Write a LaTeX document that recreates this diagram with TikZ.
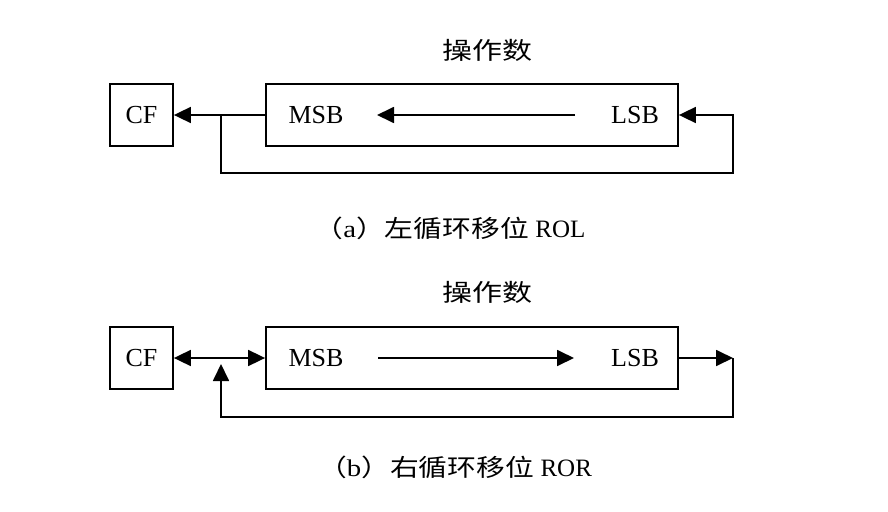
\documentclass[tikz,border=0pt]{standalone}
\usepackage{fontspec}
\setmainfont{Liberation Serif}
\newfontfamily\cjk{Noto Sans CJK SC}
\usetikzlibrary{arrows.meta}
\begin{document}
\begin{tikzpicture}[x=1pt,y=-1pt,
  line width=1.8pt,
  boxlbl/.style={font=\fontsize{26}{30}\selectfont},
  regbox/.style={draw,minimum width=412pt,minimum height=62pt,inner sep=0pt},
  cfbox/.style={draw,minimum width=63pt,minimum height=62pt,inner sep=0pt},
  arr/.style={-{Triangle[length=17pt,width=16pt]}},
  darr/.style={{Triangle[length=17pt,width=16pt]}-{Triangle[length=17pt,width=16pt]}},
  captxt/.style={inner sep=0pt}]
\useasboundingbox (0,0) rectangle (888,511);

% ---------- (a) ROL ----------
\node[captxt] (tA) at (487,50) {\scalebox{1.25}[1]{\cjk\fontsize{24}{28}\selectfont 操作数}};
\node[cfbox,boxlbl] (cfA) at (141.5,115) {CF};
\node[regbox] (regA) at (472,115) {};
\node[boxlbl] (msbA) at (316,115) {MSB};
\node[boxlbl] (lsbA) at (635,115) {LSB};
\coordinate (aS) at (575,115);
\coordinate (aE) at (377,115);
\coordinate (jA) at (221,115);
\coordinate (blA) at (221,173);
\coordinate (brA) at (733,173);
\coordinate (trA) at (733,115);
\draw[arr] (regA.west) -- (cfA.east);
\draw[arr] (aS) -- (aE);
\draw[arr] (jA) -- (blA) -- (brA) -- (trA) -- (regA.east);
\node[captxt] (capA) at (450,228) {\scalebox{1.2}[1]{\cjk\fontsize{24}{28}\selectfont （{\rmfamily a}）左循环移位 }\fontsize{25}{28}\selectfont ROL};

% ---------- (b) ROR ----------
\node[captxt] (tB) at (487,292) {\scalebox{1.25}[1]{\cjk\fontsize{24}{28}\selectfont 操作数}};
\node[cfbox,boxlbl] (cfB) at (141.5,358) {CF};
\node[regbox] (regB) at (472,358) {};
\node[boxlbl] (msbB) at (316,358) {MSB};
\node[boxlbl] (lsbB) at (635,358) {LSB};
\coordinate (bS) at (378,358);
\coordinate (bE) at (574,358);
\coordinate (jB) at (221,364);
\coordinate (blB) at (221,417);
\coordinate (brB) at (733,417);
\coordinate (trB) at (733,358);
\draw[darr] (cfB.east) -- (regB.west);
\draw[arr] (bS) -- (bE);
\draw[arr] (regB.east) -- (trB);
\draw[arr] (trB) -- (brB) -- (blB) -- (jB);
\node[captxt] (capB) at (455,467) {\scalebox{1.2}[1]{\cjk\fontsize{24}{28}\selectfont （{\rmfamily b}）右循环移位 }\fontsize{25}{28}\selectfont ROR};
\end{tikzpicture}
\end{document}
